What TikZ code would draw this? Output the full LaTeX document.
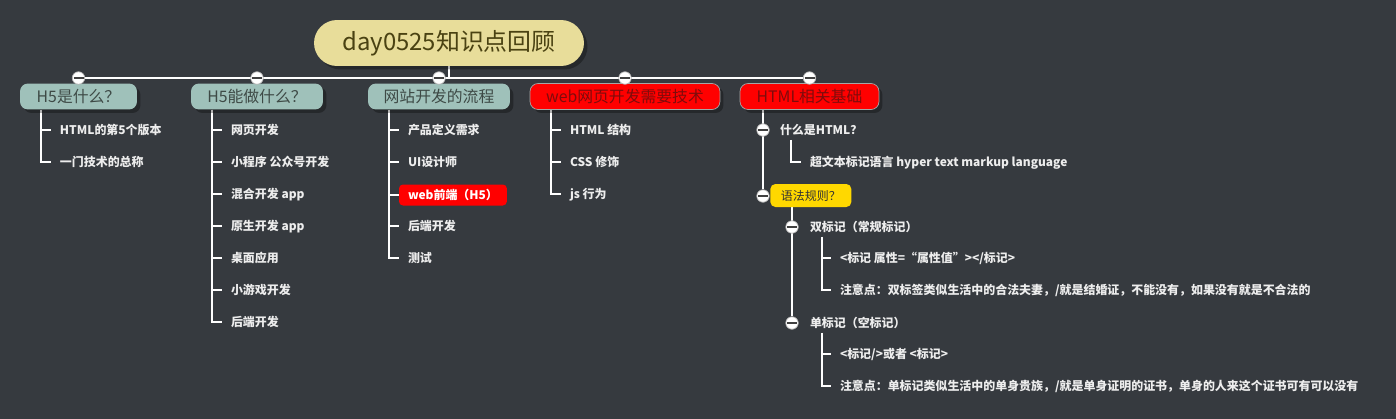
\documentclass[tikz,border=0pt]{standalone}
\usepackage{fontspec}
\setmainfont{Noto Sans CJK SC}
\usetikzlibrary{calc,shadows}

\definecolor{bgcol}{HTML}{363A3F}
\definecolor{rootfill}{HTML}{E8DD9A}
\definecolor{roottext}{HTML}{4A4212}
\definecolor{sage}{HTML}{9FC1BA}
\definecolor{sagetext}{HTML}{3E4A46}
\definecolor{redtext}{HTML}{7E0C0C}
\definecolor{leaftext}{HTML}{EDEDED}
\definecolor{markyellow}{HTML}{FFD800}

\pgfdeclarelayer{back}
\pgfdeclarelayer{wires}
\pgfsetlayers{back,wires,main}

\tikzset{
	root/.style={rounded corners=0.46cm, fill=rootfill, text=roottext, minimum width=5.4cm, minimum height=0.92cm, font=\fontsize{13.6}{15}\selectfont, drop shadow={shadow xshift=0.07cm, shadow yshift=-0.07cm, fill=black, opacity=0.3}},
	topic/.style={rounded corners=0.16cm, fill=sage, text=sagetext, minimum height=0.52cm, inner sep=0, font=\fontsize{9}{10}\selectfont, drop shadow={shadow xshift=0.07cm, shadow yshift=-0.07cm, fill=black, opacity=0.3}},
	hottopic/.style={topic, fill=red, draw=gray!70, text=redtext},
	leaf/.style={anchor=west, inner sep=0, outer xsep=0.18cm, text=leaftext, font=\fontsize{6.8}{8}\selectfont\bfseries, text height=1.5ex, text depth=.5ex},
	redleaf/.style={leaf, outer xsep=0, inner xsep=0.18cm, fill=red, rounded corners=0.08cm, minimum height=0.42cm, text=white},
	yellowmark/.style={anchor=west, fill=markyellow, text=black!80, rounded corners=0.1cm, inner xsep=0.2cm, inner ysep=0, minimum height=0.46cm, minimum width=1.62cm, font=\fontsize{6.8}{8}\selectfont, text height=1.5ex, text depth=.5ex},
	fold/.style={circle, fill=white, draw=gray!60, line width=0.4pt, inner sep=0, minimum size=0.25cm, path picture={\draw[line width=1.2pt, black!75] ([xshift=-0.1cm]path picture bounding box.center) -- ([xshift=0.1cm]path picture bounding box.center);}},
	bar/.style={draw=white, line width=1.7pt},
	twig/.style={draw=white, line width=1.1pt},
}

\begin{document}
\begin{tikzpicture}[x=0.02cm, y=-0.02cm]
	\begin{pgfonlayer}{back}
		\fill[bgcol] (0,0) rectangle (1396,419);
	\end{pgfonlayer}
	\useasboundingbox (0,0) rectangle (1396,419);

	% root and main topics
	\node [root] (root) at (449,43) {day0525知识点回顾};
	\coordinate (hub) at (449,78);
	\node [topic, minimum width=2.34cm] (t1) at (78.5,96.5) {H5是什么？};
	\node [topic, minimum width=2.64cm] (t2) at (257,96.5) {H5能做什么？};
	\node [topic, minimum width=2.84cm] (t3) at (439,96.5) {网站开发的流程};
	\node [hottopic, minimum width=3.8cm] (t4) at (625,96.5) {web网页开发需要技术};
	\node [hottopic, minimum width=2.78cm] (t5) at (809.5,96.5) {HTML相关基础};
	\node [fold] (fold1) at (78.5,78) {};
	\node [fold] (fold2) at (257,78) {};
	\node [fold] (fold3) at (439,78) {};
	\node [fold] (fold4) at (625,78) {};
	\node [fold] (fold5) at (809.5,78) {};

	% H5是什么
	\node [leaf] (what1) at (51,130) {HTML的第5个版本};
	\node [leaf] (what2) at (51,162) {一门技术的总称};

	% H5能做什么
	\node [leaf] (can1) at (222,130) {网页开发};
	\node [leaf] (can2) at (222,162) {小程序 公众号开发};
	\node [leaf] (can3) at (222,194) {混合开发 app};
	\node [leaf] (can4) at (222,226) {原生开发 app};
	\node [leaf] (can5) at (222,258) {桌面应用};
	\node [leaf] (can6) at (222,290) {小游戏开发};
	\node [leaf] (can7) at (222,322) {后端开发};

	% 网站开发的流程
	\node [leaf] (flow1) at (399,130) {产品定义需求};
	\node [leaf] (flow2) at (399,162) {UI设计师};
	\node [redleaf] (flow3) at (399,195) {web前端（H5）};
	\node [leaf] (flow4) at (399,226) {后端开发};
	\node [leaf] (flow5) at (399,258) {测试};

	% web网页开发需要技术
	\node [leaf] (tech1) at (561,130) {HTML 结构};
	\node [leaf] (tech2) at (561,162) {CSS 修饰};
	\node [leaf] (tech3) at (561,194) {js 行为};

	% HTML相关基础
	\node [fold] (foldWhat) at (763,130) {};
	\node [leaf] (whatHtml) at (771,130) {什么是HTML？};
	\node [leaf] (hyper) at (801,162) {超文本标记语言 hyper text markup language};
	\node [fold] (foldSyntax) at (763,196) {};
	\node [yellowmark] (syntax) at (770,195.5) {语法规则？};
	\node [fold] (foldDouble) at (792,227) {};
	\node [leaf] (doubleTag) at (801,227) {双标记（常规标记）};
	\node [leaf] (double1) at (831,258) {<标记 属性=“属性值”></标记>};
	\node [leaf] (double2) at (831,290) {注意点：双标签类似生活中的合法夫妻，/就是结婚证，不能没有，如果没有就是不合法的};
	\node [fold] (foldSingle) at (792,323) {};
	\node [leaf] (singleTag) at (801,323) {单标记（空标记）};
	\node [leaf] (single1) at (831,354) {<标记/>或者 <标记>};
	\node [leaf] (single2) at (831,386) {注意点：单标记类似生活中的单身贵族，/就是单身证明的证书，单身的人来这个证书可有可以没有};

	\begin{pgfonlayer}{wires}
		\draw [bar] (root.south) -- (hub);
		\draw [bar] (fold1) -- (fold5);
		\draw [bar] (fold1) -- (t1.north);
		\draw [bar] (fold2) -- (t2.north);
		\draw [bar] (fold3) -- (t3.north);
		\draw [bar] (fold4) -- (t4.north);
		\draw [bar] (fold5) -- (t5.north);

		\draw [twig] ($(t1.south west)+(21,0)$) |- (what1.west);
		\draw [twig] ($(t1.south west)+(21,0)$) |- (what2.west);

		\draw [twig] ($(t2.south west)+(21,0)$) |- (can1.west);
		\draw [twig] ($(t2.south west)+(21,0)$) |- (can2.west);
		\draw [twig] ($(t2.south west)+(21,0)$) |- (can3.west);
		\draw [twig] ($(t2.south west)+(21,0)$) |- (can4.west);
		\draw [twig] ($(t2.south west)+(21,0)$) |- (can5.west);
		\draw [twig] ($(t2.south west)+(21,0)$) |- (can6.west);
		\draw [twig] ($(t2.south west)+(21,0)$) |- (can7.west);

		\draw [twig] ($(t3.south west)+(21,0)$) |- (flow1.west);
		\draw [twig] ($(t3.south west)+(21,0)$) |- (flow2.west);
		\draw [twig] ($(t3.south west)+(21,0)$) |- (flow3.west);
		\draw [twig] ($(t3.south west)+(21,0)$) |- (flow4.west);
		\draw [twig] ($(t3.south west)+(21,0)$) |- (flow5.west);

		\draw [twig] ($(t4.south west)+(21,0)$) |- (tech1.west);
		\draw [twig] ($(t4.south west)+(21,0)$) |- (tech2.west);
		\draw [twig] ($(t4.south west)+(21,0)$) |- (tech3.west);

		\draw [twig] (t5.south -| foldWhat) -- (foldSyntax);
		\draw [twig] ($(whatHtml.south west)+(20,0)$) |- (hyper.west);
		\draw [twig] (syntax.south -| foldSingle) -- (foldSingle);
		\draw [twig] ($(doubleTag.south west)+(21,0)$) |- (double1.west);
		\draw [twig] ($(doubleTag.south west)+(21,0)$) |- (double2.west);
		\draw [twig] ($(singleTag.south west)+(21,0)$) |- (single1.west);
		\draw [twig] ($(singleTag.south west)+(21,0)$) |- (single2.west);
	\end{pgfonlayer}
\end{tikzpicture}
\end{document}
